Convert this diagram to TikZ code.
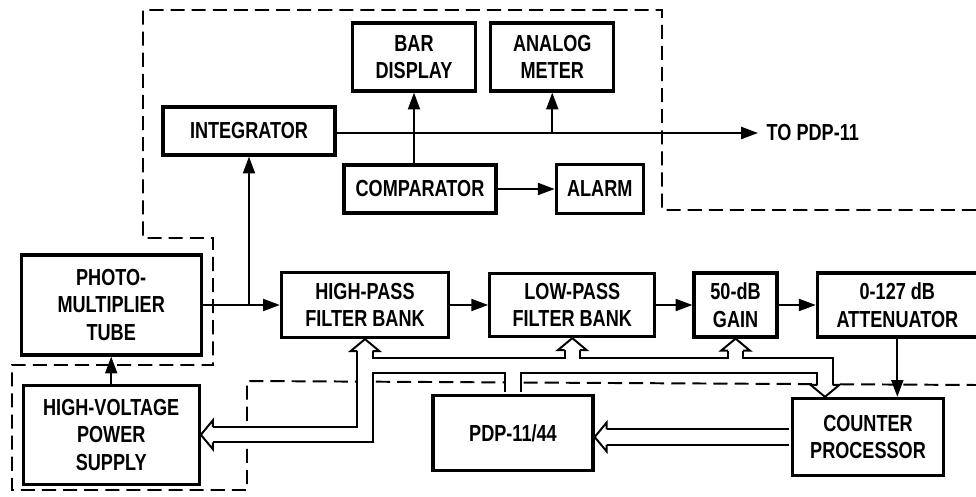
\documentclass[tikz,border=0pt]{standalone}
\usepackage{fontspec}
\setmainfont{Liberation Sans}[FakeStretch=0.78]
\usetikzlibrary{positioning, arrows.meta, calc}

% band of the data bus, drawn twice (outline, then inside)
\newcommand{\busnet}[1]{%
    \draw[#1] ($(hv_supply.east)+(12,0)$) -- (hv_supply.east -| bus_l) -- ($(hp_filter.south)+(0,12)$);
    \draw[#1] (bus_l) -- (bus_l -| cp_in) -- ($(cp_in)+(0,-12)$);
    \draw[#1] ($(pdp.north)+(0,-1.6)$) -- (pdp.north |- bus_l);
    \draw[#1] (lp_filter.south |- bus_l) -- ($(lp_filter.south)+(0,12)$);
    \draw[#1] (gain_amp.south |- bus_l) -- ($(gain_amp.south)+(0,12)$);
    \draw[#1] ($(counter.west)+(-1.6,0)$) -- ($(pdp_in)+(12,0)$);}
% open head of the bus
\newcommand{\bushead}[2]{%
    \filldraw[bus_head, shift={(#1)}, rotate=#2]
        (-0.19cm,-0.3cm) -- (-0.36cm,-0.3cm) -- (0,0) -- (0.36cm,-0.3cm) -- (0.19cm,-0.3cm);}

\begin{document}
\begin{tikzpicture}[
    x=0.025cm, y=-0.025cm,
    font=\bfseries\fontsize{16.5}{19.6}\selectfont,
    block/.style={rectangle, draw, line width=2.3pt, align=center, inner sep=2pt},
    arrow/.style={draw, line width=1.4pt, -{Triangle[length=4.2mm, width=3mm]}},
    unit_line/.style={draw, line width=1.4pt, dash pattern=on 10pt off 5pt},
    bus_out/.style={line width=0.43cm, line cap=butt, line join=miter},
    bus_in/.style={white, line width=0.33cm, line cap=butt, line join=miter},
    bus_head/.style={fill=white, draw=black, line width=1.4pt, line join=miter}
]
\useasboundingbox (0,0) rectangle (976,497);

% Dashed unit outline
\draw[unit_line] (976,210) -- (662,210) -- (662,10) -- (143,10) -- (143,238) -- (213,238)
    -- (213,365) -- (12,365) -- (12,490) -- (247,490) -- (247,381) -- (976,385);

% Signal chain
\node[block, minimum width=4.175cm, minimum height=1.625cm] (hp_filter) at (365,305) {HIGH-PASS\\FILTER BANK};
\node[block, minimum width=4.5cm, minimum height=2.5cm, left=1.925cm of hp_filter] (pmt_tube) {PHOTO-\\MULTIPLIER\\TUBE};
\node[block, minimum width=4.4cm, minimum height=2.475cm, below=0.675cm of pmt_tube] (hv_supply) {HIGH-VOLTAGE\\POWER\\SUPPLY};
\node[block, minimum width=4.125cm, minimum height=1.575cm, right=0.95cm of hp_filter] (lp_filter) {LOW-PASS\\FILTER BANK};
\node[block, minimum width=2.075cm, minimum height=1.6cm, right=0.9cm of lp_filter] (gain_amp) {50-dB\\GAIN};
\node[block, minimum width=4.0cm, minimum height=1.6cm, right=0.925cm of gain_amp] (atten) {0-127 dB\\ATTENUATOR};

% Monitor part
\node[block, minimum width=4.3cm, minimum height=1.2cm] (integ) at (249,131) {INTEGRATOR};
\node[block, minimum width=3.8cm, minimum height=1.2cm] (comp) at (420,189) {COMPARATOR};
\node[block, minimum width=2.175cm, minimum height=1.225cm, right=1.425cm of comp] (alarm) {ALARM};
\node[block, minimum width=3.075cm, minimum height=1.7cm] (bar_disp) at (414,57) {BAR\\DISPLAY};
\node[block, minimum width=3.075cm, minimum height=1.7cm, right=0.3cm of bar_disp] (meter) {ANALOG\\METER};
\node[anchor=west, inner sep=6pt] (to_pdp) at (758,133) {TO PDP-11};

% Computer part
\node[block, minimum width=4.0cm, minimum height=1.875cm] (pdp) at (513,433) {PDP-11/44};
\node[block, minimum width=3.775cm, minimum height=1.925cm] (counter) at (868,437) {COUNTER\\PROCESSOR};

% Connections
\draw[arrow] (pmt_tube.east) -- (pmt_tube.east -| hp_filter.west);
\draw[arrow] (pmt_tube.east -| integ.south) -- (integ.south);
\draw[arrow] (hp_filter.east) -- (lp_filter.west);
\draw[arrow] (lp_filter.east) -- (gain_amp.west);
\draw[arrow] (gain_amp.east) -- (atten.west);
\draw[arrow] (atten.south) -- (atten.south |- counter.north);
\draw[arrow] (hv_supply.north) -- (pmt_tube.south);
\draw[arrow] (integ.east |- to_pdp.west) -- (to_pdp.west);
\draw[arrow] (to_pdp.west -| meter.south) -- (meter.south);
\draw[arrow] (comp.north -| bar_disp.south) -- (bar_disp.south);
\draw[arrow] (comp.east) -- (alarm.west);

% Data bus
\coordinate (bus_l) at ($(hp_filter.south)+(0,26)$);
\coordinate (cp_in) at ($(counter.north)+(-43,0)$);
\coordinate (pdp_in) at (pdp.east |- counter.west);
\busnet{bus_out}
\busnet{bus_in}
\bushead{hp_filter.south}{0}
\bushead{lp_filter.south}{0}
\bushead{gain_amp.south}{0}
\bushead{cp_in}{180}
\bushead{hv_supply.east}{90}
\bushead{pdp_in}{90}

\end{tikzpicture}
\end{document}
